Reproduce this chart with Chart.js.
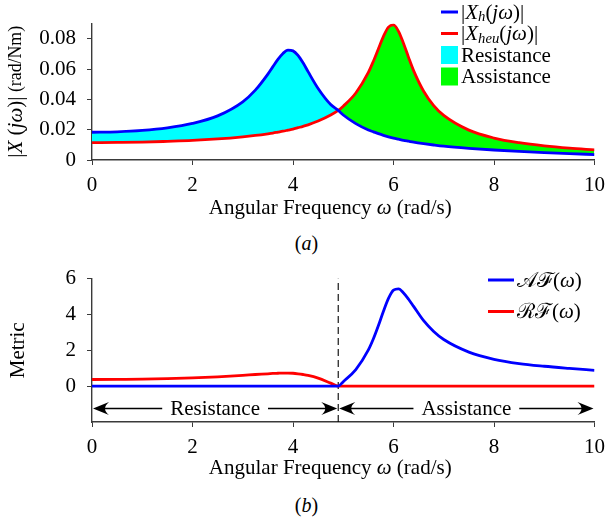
<!DOCTYPE html>
<html lang="en">
<head>
<meta charset="UTF-8">
<title>Frequency response and metrics</title>
<script src="https://cdn.jsdelivr.net/npm/chart.js@4/dist/chart.umd.min.js"></script>
<style>
  body { margin: 0; width: 613px; height: 520px; background: #fff; position: relative; overflow: hidden; }
  .plot { position: absolute; left: 0; width: 613px; }
  #topBox { top: 0; height: 220px; }
  #botBox { top: 255px; height: 227px; }
  .caption { position: absolute; left: 0; width: 613px; text-align: center; font: 20px "Liberation Serif", serif; line-height: 22px; color: #000; }
</style>
</head>
<body>
<div id="topBox" class="plot"><canvas id="magChart"></canvas></div>
<div class="caption" style="top:232px">(<i>a</i>)</div>
<div id="botBox" class="plot"><canvas id="metricChart"></canvas></div>
<div class="caption" style="top:494px">(<i>b</i>)</div>

<script>
// angular frequency samples (rad/s)
const omega = [0, 0.5, 1, 1.5, 2, 2.5, 3, 3.25, 3.5, 3.6, 3.7, 3.8, 3.9, 4, 4.1, 4.2, 4.3, 4.5, 4.75, 4.9,
               5, 5.25, 5.5, 5.6, 5.7, 5.8, 5.9, 6, 6.1, 6.2, 6.3, 6.4, 6.6, 6.8, 7, 7.5, 8, 8.5, 9, 9.5, 10];

// (a) magnitudes |X(jw)| in rad/Nm
const xhMag = [0.0183, 0.0186, 0.0195, 0.0212, 0.0241, 0.0291, 0.0384, 0.0461, 0.0567, 0.0616, 0.0664, 0.0703, 0.0725, 0.0720, 0.0690, 0.0641, 0.0583, 0.0472, 0.0366, 0.0327,
               0.0297, 0.0240, 0.0198, 0.0186, 0.0174, 0.0163, 0.0153, 0.0144, 0.0137, 0.0130, 0.0124, 0.0118, 0.0108, 0.0099, 0.0091, 0.0077, 0.0066, 0.0057, 0.0049, 0.0042, 0.0036];
const xheuMag = [0.0115, 0.0116, 0.0118, 0.0123, 0.0129, 0.0139, 0.0153, 0.0162, 0.0173, 0.0178, 0.0184, 0.0190, 0.0197, 0.0204, 0.0213, 0.0222, 0.0232, 0.0257, 0.0297, 0.0327,
                 0.0355, 0.0442, 0.0578, 0.0652, 0.0734, 0.0816, 0.0877, 0.0891, 0.0849, 0.0769, 0.0677, 0.0590, 0.0454, 0.0359, 0.0294, 0.0197, 0.0145, 0.0114, 0.0093, 0.0078, 0.0067];

// (b) metrics
const afMetric = [0, 0, 0, 0, 0, 0, 0, 0, 0, 0, 0, 0, 0, 0, 0, 0, 0, 0, 0, 0,
                  0.25, 0.92, 2.02, 2.64, 3.38, 4.18, 4.90, 5.36, 5.43, 5.20, 4.85, 4.45, 3.65, 3.05, 2.60, 1.90, 1.50, 1.26, 1.11, 0.99, 0.88];
const rfMetric = [0.37, 0.38, 0.39, 0.42, 0.46, 0.52, 0.60, 0.65, 0.69, 0.71, 0.72, 0.73, 0.73, 0.72, 0.69, 0.65, 0.60, 0.45, 0.17, 0,
                  0, 0, 0, 0, 0, 0, 0, 0, 0, 0, 0, 0, 0, 0, 0, 0, 0, 0, 0, 0, 0];

const crossover = 4.9;
const regionBounds = [0, crossover, 10];
const regionLabels = ['Resistance', 'Assistance'];
const arrowLevel = -1.25;

const xTicks = [0, 2, 4, 6, 8, 10];
const magTicks = [0, 0.02, 0.04, 0.06, 0.08];
const metricTicks = [0, 2, 4, 6];

// label pieces: [text, italic, subscript, size factor]
const labelXh = [['|', 0], ['X', 1], ['h', 1, 1], ['(', 0], ['jω', 1], [')|', 0]];
const labelXheu = [['|', 0], ['X', 1], ['heu', 1, 1], ['(', 0], ['jω', 1], [')|', 0]];
const labelAF = [['𝒜ℱ', 0], ['(', 0], ['ω', 1], [')', 0]];
const labelRF = [['ℛℱ', 0], ['(', 0], ['ω', 1], [')', 0]];
const magTitle = [['|', 0], ['X', 1], [' (', 0], ['jω', 1], [')|', 0], [' (rad/Nm)', 0, 0, 0.85]];
const freqTitle = [['Angular Frequency ', 0], ['ω', 1], [' (rad/s)', 0]];

const serif = '"Liberation Serif", "DejaVu Serif", serif';
const fontSize = 21;
const axisColor = '#3a3a3a';
const textColor = '#000';

function pts(ys) { return omega.map((w, i) => ({ x: w, y: ys[i] })); }

function segFont(seg, size) {
  const s = seg[2] ? size * 0.7 : size * (seg[3] || 1);
  return (seg[1] ? 'italic ' : '') + s.toFixed(1) + 'px ' + serif;
}
function mathWidth(ctx, segs, size) {
  let w = 0;
  segs.forEach(s => { ctx.font = segFont(s, size); w += ctx.measureText(s[0]).width; });
  return w;
}
function drawMath(ctx, segs, x, y, size) {
  let cx = x;
  segs.forEach(s => {
    ctx.font = segFont(s, size);
    ctx.fillText(s[0], cx, s[2] ? y + size * 0.22 : y);
    cx += ctx.measureText(s[0]).width;
  });
}

// legend drawn in the plot corner with math-style labels
const mathLegend = {
  id: 'mathLegend',
  afterDraw(chart, args, opts) {
    const ctx = chart.ctx;
    ctx.save();
    ctx.textBaseline = 'middle';
    ctx.textAlign = 'left';
    opts.items.forEach((it, i) => {
      const y = opts.y + i * opts.rowH;
      if (it.kind === 'line') {
        ctx.strokeStyle = it.color;
        ctx.lineWidth = 3;
        ctx.beginPath();
        ctx.moveTo(opts.x, y);
        ctx.lineTo(opts.x + opts.swatch, y);
        ctx.stroke();
      } else {
        ctx.fillStyle = it.color;
        ctx.fillRect(opts.x, y - 9, opts.swatch, 18);
      }
      ctx.fillStyle = '#000';
      drawMath(ctx, it.label, opts.x + opts.swatch + 3, y + 1, opts.size);
    });
    ctx.restore();
  }
};

// axis titles with mixed upright / italic pieces
const mathTitles = {
  id: 'mathTitles',
  afterDraw(chart, args, opts) {
    const ctx = chart.ctx, area = chart.chartArea;
    ctx.save();
    ctx.fillStyle = textColor;
    ctx.textBaseline = 'alphabetic';
    if (opts.x) {
      const w = mathWidth(ctx, opts.x, fontSize);
      drawMath(ctx, opts.x, (area.left + area.right) / 2 - w / 2 - opts.xShift, area.bottom + opts.xDrop, fontSize);
    }
    if (opts.y) {
      ctx.translate(opts.yPos, (area.top + area.bottom) / 2);
      ctx.rotate(-Math.PI / 2);
      ctx.textBaseline = 'middle';
      const w = mathWidth(ctx, opts.y, fontSize);
      drawMath(ctx, opts.y, -w / 2, 0, fontSize);
    }
    ctx.restore();
  }
};

// double arrows marking resistance / assistance ranges
function arrowHead(ctx, tipX, y, dir) {
  const L = 16, H = 6.5;
  ctx.beginPath();
  ctx.moveTo(tipX, y);
  ctx.lineTo(tipX - dir * L, y - H);
  ctx.quadraticCurveTo(tipX - dir * L * 0.5, y, tipX - dir * L, y + H);
  ctx.closePath();
  ctx.fill();
}
const regionArrows = {
  id: 'regionArrows',
  afterDatasetsDraw(chart) {
    const { ctx, scales: { x, y } } = chart;
    const py = y.getPixelForValue(arrowLevel);
    ctx.save();
    ctx.font = fontSize + 'px ' + serif;
    ctx.textAlign = 'center';
    ctx.textBaseline = 'middle';
    ctx.fillStyle = '#000';
    ctx.strokeStyle = '#000';
    ctx.lineWidth = 1.4;
    regionLabels.forEach((label, i) => {
      const x0 = x.getPixelForValue(regionBounds[i]) + 1;
      const x1 = x.getPixelForValue(regionBounds[i + 1]) - 1;
      const mid = (x0 + x1) / 2;
      const half = ctx.measureText(label).width / 2 + 8;
      ctx.beginPath();
      ctx.moveTo(x0 + 4, py); ctx.lineTo(mid - half, py);
      ctx.moveTo(mid + half, py); ctx.lineTo(x1 - 4, py);
      ctx.stroke();
      arrowHead(ctx, x0, py, -1);
      arrowHead(ctx, x1, py, 1);
      ctx.fillText(label, mid, py + 1);
    });
    ctx.restore();
  }
};

function xScale() {
  return {
    type: 'linear', min: 0, max: 10,
    afterBuildTicks: s => { s.ticks = xTicks.map(v => ({ value: v })); },
    afterFit: s => { s.height = 60; },
    border: { color: axisColor, width: 1.4 },
    grid: { drawOnChartArea: false, drawTicks: true, tickLength: 5, color: axisColor },
    ticks: { font: { family: serif, size: fontSize }, color: textColor, padding: 8, maxRotation: 0 }
  };
}
function yScale(min, max, ticks, fmt) {
  return {
    min: min, max: max,
    afterBuildTicks: s => { s.ticks = ticks.map(v => ({ value: v })); },
    afterFit: s => { s.width = 92; },
    border: { color: axisColor, width: 1.4 },
    grid: { drawOnChartArea: false, drawTicks: true, tickLength: 5, color: axisColor },
    ticks: { font: { family: serif, size: fontSize }, color: textColor, padding: 11, callback: fmt }
  };
}

new Chart(document.getElementById('magChart'), {
  type: 'line',
  data: {
    datasets: [
      { label: 'Xh', data: pts(xhMag), borderColor: '#0000ff', borderWidth: 2.8, pointRadius: 0, cubicInterpolationMode: 'monotone', fill: false },
      { label: 'Xheu', data: pts(xheuMag), borderColor: '#ff0000', borderWidth: 2.8, pointRadius: 0, cubicInterpolationMode: 'monotone',
        fill: { target: 0, above: '#00ff00', below: '#00ffff' } }
    ]
  },
  options: {
    responsive: true, maintainAspectRatio: false, animation: false,
    layout: { padding: { top: 16, right: 12, left: 0, bottom: 0 } },
    scales: {
      x: xScale(),
      y: yScale(0, 0.09, magTicks, v => v === 0 ? '0' : v.toFixed(2))
    },
    plugins: {
      legend: { display: false }, tooltip: { enabled: false },
      mathTitles: { x: freqTitle, xShift: 13, xDrop: 54, y: magTitle, yPos: 16 },
      mathLegend: { x: 441, y: 12, rowH: 21.5, swatch: 17, size: fontSize, items: [
        { kind: 'line', color: '#0000ff', label: labelXh },
        { kind: 'line', color: '#ff0000', label: labelXheu },
        { kind: 'box', color: '#00ffff', label: [[regionLabels[0], 0]] },
        { kind: 'box', color: '#00ff00', label: [[regionLabels[1], 0]] }
      ] }
    }
  },
  plugins: [mathLegend, mathTitles]
});

new Chart(document.getElementById('metricChart'), {
  type: 'line',
  data: {
    datasets: [
      { label: 'AF', data: pts(afMetric), borderColor: '#0000ff', borderWidth: 2.8, pointRadius: 0, cubicInterpolationMode: 'monotone' },
      { label: 'RF', data: pts(rfMetric), borderColor: '#ff0000', borderWidth: 2.8, pointRadius: 0, cubicInterpolationMode: 'monotone' },
      { label: 'crossover', data: [{ x: crossover, y: -2 }, { x: crossover, y: 6 }], borderColor: '#000', borderWidth: 1.1, borderDash: [7, 4], pointRadius: 0 }
    ]
  },
  options: {
    responsive: true, maintainAspectRatio: false, animation: false,
    layout: { padding: { top: 22, right: 12, left: 0, bottom: 0 } },
    scales: {
      x: xScale(),
      y: yScale(-2, 6, metricTicks)
    },
    plugins: {
      legend: { display: false }, tooltip: { enabled: false },
      mathTitles: { x: freqTitle, xShift: 13, xDrop: 52, y: [['Metric', 0]], yPos: 18 },
      mathLegend: { x: 488, y: 25, rowH: 31.5, swatch: 26, size: fontSize, items: [
        { kind: 'line', color: '#0000ff', label: labelAF },
        { kind: 'line', color: '#ff0000', label: labelRF }
      ] }
    }
  },
  plugins: [mathLegend, mathTitles, regionArrows]
});
</script>
</body>
</html>
